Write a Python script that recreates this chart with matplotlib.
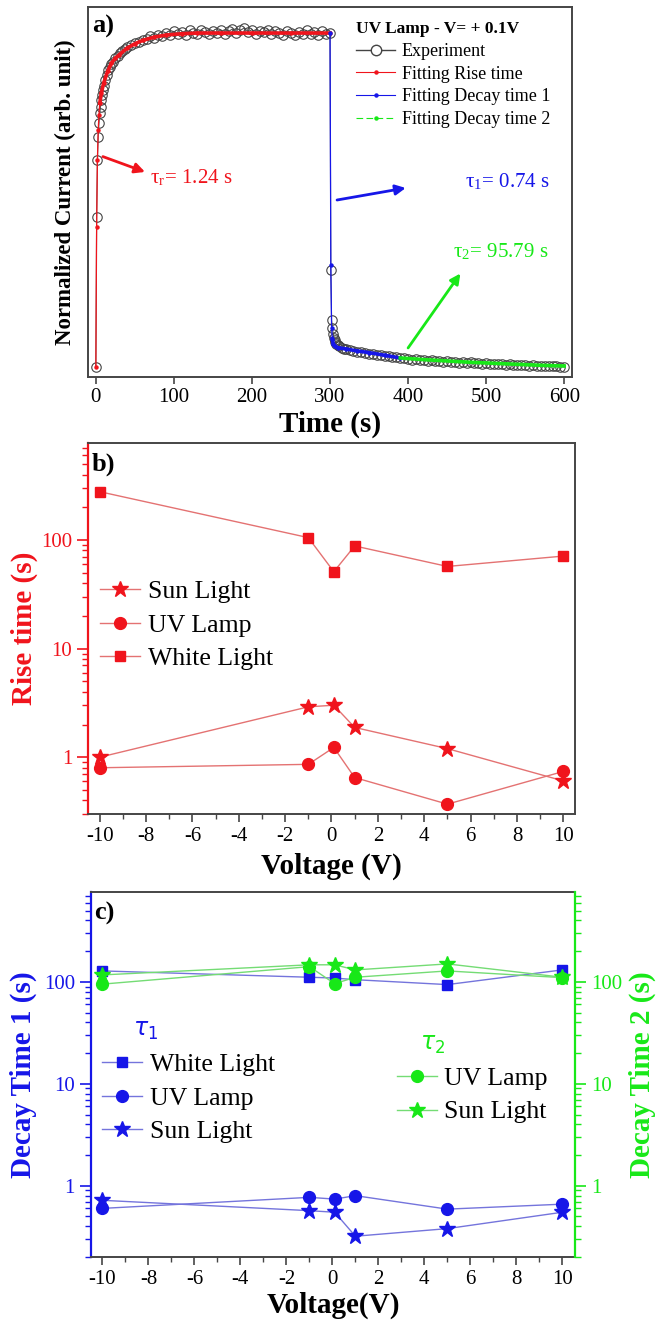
import numpy as np
import matplotlib.pyplot as plt
from matplotlib.lines import Line2D
from matplotlib.ticker import LogLocator, NullFormatter, FixedLocator

plt.rcParams['font.family'] = ['Liberation Serif', 'DejaVu Serif']
plt.rcParams['mathtext.fontset'] = 'stix'
plt.rcParams['axes.unicode_minus'] = False

# ---------------- panel a : photocurrent vs time (UV lamp, +0.1 V)
t_exp = [0, 1, 2, 3, 4, 5, 6, 7, 8, 9, 10, 12, 14, 16, 18, 20, 22, 25, 28, 31,
         34, 37, 40, 45, 50, 55, 60, 65, 70, 75, 80, 85, 90, 95, 100, 105, 110,
         115, 120, 125, 130, 135, 140, 145, 150, 155, 160, 165, 170, 175, 180,
         185, 190, 195, 200, 205, 210, 215, 220, 225, 230, 235, 240, 245, 250,
         255, 260, 265, 270, 275, 280, 285, 290, 295, 300,
         301, 302, 303, 304, 305, 306, 307, 308, 310, 312, 315, 318, 321, 325,
         330, 335, 340, 345, 350, 355, 360, 365, 370, 375, 380, 385, 390, 395,
         400, 405, 410, 415, 420, 425, 430, 435, 440, 445, 450, 455, 460, 465,
         470, 475, 480, 485, 490, 495, 500, 505, 510, 515, 520, 525, 530, 535,
         540, 545, 550, 555, 560, 565, 570, 575, 580, 585, 590, 595, 600]
i_exp = [0.0, 0.45, 0.62, 0.69, 0.73, 0.76, 0.78, 0.80, 0.815, 0.83, 0.84, 0.86,
         0.875, 0.888, 0.898, 0.908, 0.914, 0.924, 0.932, 0.94,
         0.946, 0.952, 0.957, 0.963, 0.97, 0.973, 0.979, 0.983, 0.99, 0.986,
         0.995, 0.99, 1.0, 0.995, 1.005, 0.998, 1.003, 0.995, 1.008, 1.0, 0.997,
         1.01, 1.002, 0.996, 1.006, 1.0, 1.01, 0.998, 1.005, 1.012, 1.0,
         1.008, 1.015, 1.004, 1.01, 0.998, 1.006, 1.002, 1.01, 0.997, 1.005,
         1.0, 0.995, 1.006, 1.0, 0.993, 1.004, 0.998, 1.008, 0.996, 1.002,
         0.994, 1.005, 0.998, 1.0,
         0.29, 0.14, 0.117, 0.10, 0.088, 0.08, 0.074, 0.07, 0.066, 0.062, 0.058,
         0.055, 0.053, 0.051, 0.049, 0.046, 0.045, 0.042, 0.040, 0.039, 0.037,
         0.036, 0.034, 0.032, 0.031, 0.029, 0.028, 0.026,
         0.025, 0.022, 0.024, 0.021, 0.022, 0.019, 0.021, 0.018, 0.019, 0.016,
         0.018, 0.015, 0.016, 0.013, 0.015, 0.012, 0.014, 0.011, 0.012, 0.010,
         0.012, 0.009, 0.010, 0.008, 0.009, 0.007, 0.008, 0.006, 0.007, 0.005,
         0.006, 0.004, 0.005, 0.003, 0.004, 0.002, 0.003, 0.002, 0.002, 0.001,
         0.0]

t_rise = [0, 1, 2, 3, 4, 5, 7, 10, 15, 20, 25, 30, 40, 50, 60, 75, 90, 110,
          130, 160, 200, 250, 300]
i_rise = [0.0, 0.42, 0.62, 0.71, 0.755, 0.79, 0.82, 0.85, 0.885, 0.91, 0.925,
          0.935, 0.955, 0.968, 0.978, 0.988, 0.994, 0.998, 1.0, 1.0, 1.0, 1.0, 1.0]

t_dec1 = [300, 301, 302, 303, 304, 306, 310, 320, 335, 350, 370, 390]
i_dec1 = [1.0, 0.305, 0.117, 0.085, 0.068, 0.062, 0.058, 0.054, 0.048, 0.043,
          0.035, 0.027]

t_dec2 = [390, 420, 450, 480, 510, 540, 570, 600]
i_dec2 = [0.027, 0.022, 0.018, 0.014, 0.011, 0.008, 0.005, 0.003]

# ---------------- panel b : rise time vs voltage
volt = [-10, -1, 0.1, 1, 5, 10]
rise_sun = [1.0, 2.91, 3.01, 1.88, 1.2, 0.605]
rise_uv = [0.80, 0.86, 1.23, 0.65, 0.37, 0.74]
rise_white = [278, 105, 51, 88, 57, 71]

# ---------------- panel c : decay times vs voltage
tau1_white = [128, 111, 109, 105, 94, 131]
tau1_uv = [0.60, 0.77, 0.74, 0.80, 0.59, 0.66]
tau1_sun = [0.72, 0.57, 0.55, 0.32, 0.38, 0.55]
tau2_uv = [95, 141, 96, 111, 128, 110]
tau2_sun = [117, 147, 147, 131, 150, 111]

RED, RED_L = '#f0141c', '#e47272'
BLUE, BLUE_L = '#1616e8', '#7474dc'
GREEN, GREEN_L = '#18e818', '#74dc74'
GRAY = '#454545'
TICK = 15
LAB = 21

fig = plt.figure(figsize=(6.67, 13.2), dpi=100)

# ======================= a)
axa = fig.add_axes([0.132, 0.7144, 0.7256, 0.2803])
axa.plot(t_exp, i_exp, '-', color='#555555', lw=0.8, marker='o', ms=6.8,
         mfc='none', mec='#444444', mew=0.8, zorder=2)
axa.plot(t_rise, i_rise, color=RED, lw=0.9, marker='o', ms=2.2, zorder=3)
axa.plot(t_rise[5:], i_rise[5:], color=RED, lw=2.6, zorder=3)
axa.plot(t_dec1, i_dec1, color=BLUE, lw=0.9, marker='o', ms=2.2, zorder=3)
axa.plot(t_dec1[3:], i_dec1[3:], color=BLUE, lw=2.6, zorder=3)
axa.plot(t_dec2, i_dec2, color=GREEN, lw=2.6, zorder=3)
axa.set_xlim(-10, 610)
axa.set_ylim(-0.03, 1.078)
axa.set_yticks([])
axa.set_xticks(range(0, 601, 100))
axa.tick_params(axis='x', direction='out', length=5, width=1.2, labelsize=TICK,
                color=GRAY, pad=3)
for s in axa.spines.values():
    s.set_color(GRAY)
    s.set_linewidth(1.4)
axa.set_xlabel('Time (s)', fontsize=LAB, fontweight='bold')
axa.xaxis.set_label_coords(0.5, -0.09)
axa.set_ylabel('Normalized Current (arb. unit)', fontsize=16.5, fontweight='bold')
axa.yaxis.set_label_coords(-0.025, 0.5)
axa.text(0.008, 0.978, 'a)', transform=axa.transAxes, fontsize=19,
         fontweight='bold', va='top', ha='left')

arrow = dict(arrowstyle='-|>', lw=2, mutation_scale=15, shrinkA=0, shrinkB=0)
axa.annotate('', xy=(63, 0.584), xytext=(9, 0.63),
             arrowprops=dict(arrow, color=RED))
axa.text(69, 0.566, r'τ$_\mathregular{r}$= 1.24 s', color=RED, fontsize=15,
         va='center')
axa.annotate('', xy=(397, 0.536), xytext=(309, 0.5),
             arrowprops=dict(arrow, color=BLUE))
axa.text(473, 0.554, r'τ$_\mathregular{1}$= 0.74 s', color=BLUE, fontsize=15,
         va='center')
axa.annotate('', xy=(467, 0.28), xytext=(400, 0.057),
             arrowprops=dict(arrow, color=GREEN))
axa.text(458, 0.344, r'τ$_\mathregular{2}$= 95.79 s', color=GREEN, fontsize=15,
         va='center')

hands = [Line2D([], [], color='#444444', lw=1, marker='o', ms=7.5, mfc='white',
                mec='#444444'),
         Line2D([], [], color=RED, lw=0.8, marker='o', ms=2.2),
         Line2D([], [], color=BLUE, lw=0.8, marker='o', ms=2.2),
         Line2D([], [], color=GREEN, lw=0.8, ls=(0, (6, 3)), marker='o', ms=2.2)]
labs = ['Experiment', 'Fitting Rise time', 'Fitting Decay time 1',
        'Fitting Decay time 2']
axa.legend(hands, labs, title='UV Lamp - V= + 0.1V', loc='upper left',
           bbox_to_anchor=(0.553, 0.962), frameon=False, fontsize=13,
           title_fontproperties={'weight': 'bold', 'size': 12.5},
           alignment='left', handlelength=2.2, handletextpad=0.35,
           labelspacing=0.32, borderpad=0, borderaxespad=0)


def log_axis(ax, color, side='left'):
    ax.set_yscale('log')
    ax.yaxis.set_major_locator(FixedLocator([1, 10, 100]))
    ax.set_yticklabels(['1', '10', '100'])
    ax.yaxis.set_minor_locator(LogLocator(base=10, subs=np.arange(2, 10)))
    ax.yaxis.set_minor_formatter(NullFormatter())
    ax.tick_params(axis='y', which='major', direction='out', length=8, width=1.2,
                   color=color, labelcolor=color, labelsize=TICK)
    ax.tick_params(axis='y', which='minor', direction='out', length=4, width=1.0,
                   color=color)
    ax.spines[side].set_color(color)
    ax.spines[side].set_linewidth(1.6)


def volt_axis(ax):
    ax.set_xticks(range(-10, 11, 2))
    ax.set_xticks(range(-9, 10, 2), minor=True)
    ax.tick_params(axis='x', which='major', direction='out', length=6, width=1.2,
                   color=GRAY, labelsize=TICK)
    ax.tick_params(axis='x', which='minor', direction='out', length=3.5,
                   width=1.0, color=GRAY)


# ======================= b)
axb = fig.add_axes([0.132, 0.3833, 0.730, 0.2811])
for s in axb.spines.values():
    s.set_color(GRAY)
    s.set_linewidth(1.4)
l_sun, = axb.plot(volt, rise_sun, color=RED_L, lw=1, marker='*', ms=12,
                  mfc=RED, mec=RED, label='Sun Light')
l_uv, = axb.plot(volt, rise_uv, color=RED_L, lw=1, marker='o', ms=8.5,
                 mfc=RED, mec=RED, label='UV Lamp')
l_wh, = axb.plot(volt, rise_white, color=RED_L, lw=1, marker='s', ms=7.5,
                 mfc=RED, mec=RED, label='White Light')
log_axis(axb, RED)
axb.set_ylim(0.3, 780)
axb.set_xlim(-10.5, 10.5)
volt_axis(axb)
axb.set_xlabel('Voltage (V)', fontsize=LAB, fontweight='bold')
axb.xaxis.set_label_coords(0.5, -0.105)
axb.set_ylabel('Rise time (s)', fontsize=LAB, fontweight='bold', color=RED)
axb.yaxis.set_label_coords(-0.103, 0.5)
axb.text(0.008, 0.973, 'b)', transform=axb.transAxes, fontsize=19,
         fontweight='bold', va='top', ha='left')
axb.legend(handles=[l_sun, l_uv, l_wh], loc='upper left',
           bbox_to_anchor=(0.025, 0.63), frameon=False, fontsize=18.5,
           handlelength=1.55, handletextpad=0.3, labelspacing=0.4,
           borderpad=0, borderaxespad=0, numpoints=1)

# ======================= c)
axc = fig.add_axes([0.1364, 0.0477, 0.7256, 0.2765])
for s in axc.spines.values():
    s.set_color(GRAY)
    s.set_linewidth(1.4)
c_wh, = axc.plot(volt, tau1_white, color=BLUE_L, lw=1, marker='s', ms=7.5,
                 mfc=BLUE, mec=BLUE, label='White Light')
c_uv, = axc.plot(volt, tau1_uv, color=BLUE_L, lw=1, marker='o', ms=8.5,
                 mfc=BLUE, mec=BLUE, label='UV Lamp')
c_sun, = axc.plot(volt, tau1_sun, color=BLUE_L, lw=1, marker='*', ms=12,
                  mfc=BLUE, mec=BLUE, label='Sun Light')
log_axis(axc, BLUE)
axc.set_ylim(0.2, 760)
axc.set_xlim(-10.5, 10.55)
volt_axis(axc)
axc.spines['right'].set_visible(False)
axc.set_xlabel('Voltage(V)', fontsize=LAB, fontweight='bold')
axc.xaxis.set_label_coords(0.5, -0.094)
axc.set_ylabel('Decay Time 1 (s)', fontsize=LAB, fontweight='bold', color=BLUE)
axc.yaxis.set_label_coords(-0.112, 0.5)
axc.text(0.006, 0.973, 'c)', transform=axc.transAxes, fontsize=19,
         fontweight='bold', va='top', ha='left')
axc.legend(handles=[c_wh, c_uv, c_sun], loc='upper left',
           bbox_to_anchor=(0.023, 0.558), frameon=False, fontsize=18.5,
           handlelength=1.55, handletextpad=0.3, labelspacing=0.4,
           borderpad=0, borderaxespad=0, numpoints=1)
axc.text(0.087, 0.62, r'$\tau_1$', transform=axc.transAxes, color=BLUE,
         fontsize=17, va='center', math_fontfamily='dejavusans')

axc2 = axc.twinx()
g_uv, = axc2.plot(volt, tau2_uv, color=GREEN_L, lw=1, marker='o', ms=8.5,
                  mfc=GREEN, mec=GREEN, label='UV Lamp')
g_sun, = axc2.plot(volt, tau2_sun, color=GREEN_L, lw=1, marker='*', ms=12,
                   mfc=GREEN, mec=GREEN, label='Sun Light')
for k in ['left', 'top', 'bottom']:
    axc2.spines[k].set_visible(False)
log_axis(axc2, GREEN, side='right')
axc2.set_ylim(0.2, 760)
axc2.set_ylabel('Decay Time 2 (s)', fontsize=LAB, fontweight='bold',
                color=GREEN, rotation=90)
axc2.yaxis.set_label_coords(1.112, 0.5)
axc2.legend(handles=[g_uv, g_sun], loc='upper left',
            bbox_to_anchor=(0.632, 0.52), frameon=False, fontsize=18.5,
            handlelength=1.55, handletextpad=0.3, labelspacing=0.4,
            borderpad=0, borderaxespad=0, numpoints=1)
axc2.text(0.68, 0.58, r'$\tau_2$', transform=axc2.transAxes, color=GREEN,
          fontsize=17, va='center', math_fontfamily='dejavusans')

fig.savefig('out.png', dpi=100)
